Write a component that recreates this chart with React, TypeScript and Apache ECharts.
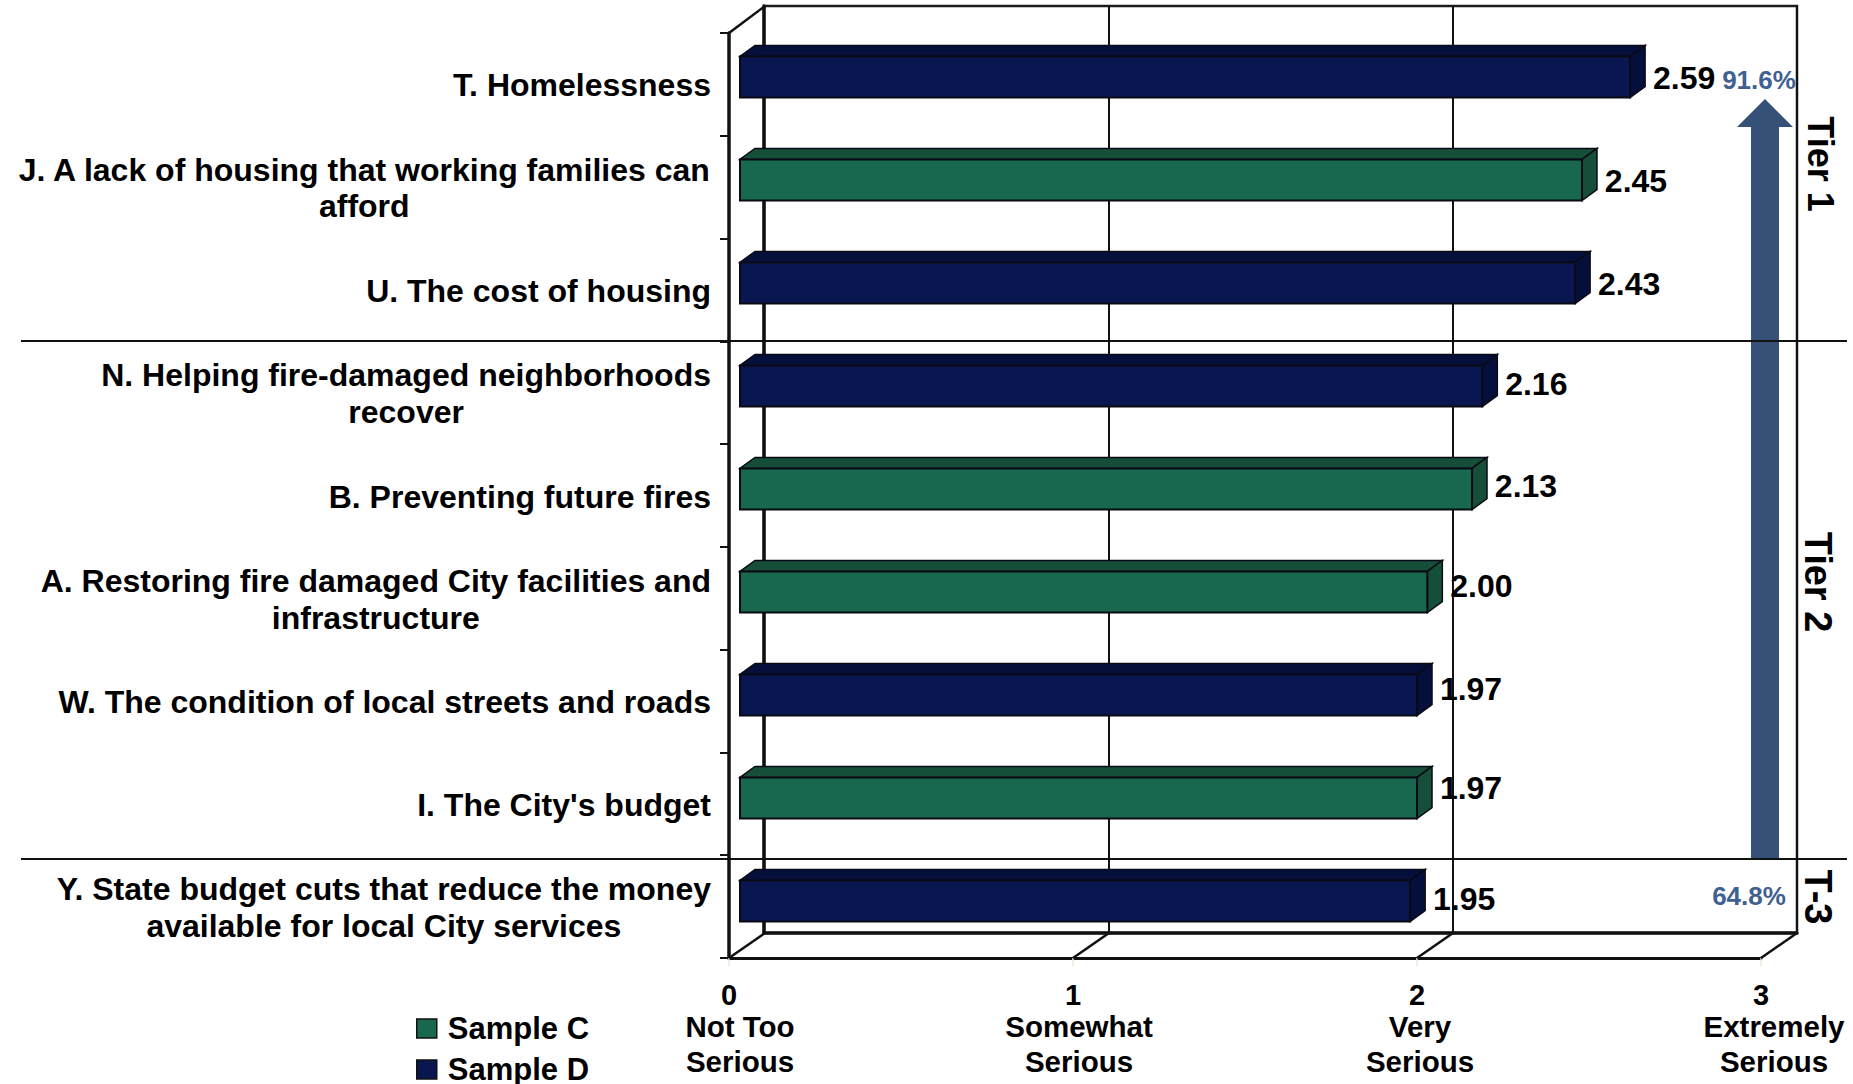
import React, { useEffect, useRef } from "react";
import * as echarts from "echarts";

const categories = [
  "T. Homelessness",
  "J. A lack of housing that working families can\nafford",
  "U. The cost of housing",
  "N. Helping fire-damaged neighborhoods\nrecover",
  "B. Preventing future fires",
  "A. Restoring fire damaged City facilities and\ninfrastructure",
  "W. The condition of local streets and roads",
  "I. The City's budget",
  "Y. State budget cuts that reduce the money\navailable for local City services",
];
const sampleC = [null, 2.45, null, null, 2.13, 2.0, null, 1.97, null];
const sampleD = [2.59, null, 2.43, 2.16, null, null, 1.97, null, 1.95];
const scaleTicks = [0, 1, 2, 3];
const scaleWords = ["Not Too\nSerious", "Somewhat\nSerious", "Very\nSerious", "Extremely\nSerious"];
const tiers = ["Tier 1", "Tier 2", "T-3"];
const topShare = "91.6%";
const bottomShare = "64.8%";

const FONT = '"Liberation Sans", Arial, sans-serif';
const NAVY = "#0a1650";
const NAVY_DARK = "#050f3c";
const GREEN = "#17684e";
const GREEN_DARK = "#154f3a";
const ARROW = "#365177";
const PCT = "#3f6090";
// vertical nudges of the value labels relative to their bar centres
const labelNudge = [1, 1, 1, -2, -3, -6, -6, -10, -2];

const tx = (text: string, x: number, y: number, size: number, extra: any = {}) => ({
  type: "text",
  x,
  y,
  z: 20,
  silent: true,
  rotation: extra.rotation || 0,
  style: {
    text,
    align: "center",
    verticalAlign: "middle",
    textAlign: "center",
    textVerticalAlign: "middle",
    fontFamily: FONT,
    fontWeight: "bold",
    fontSize: size,
    lineHeight: extra.lineHeight,
    fill: extra.fill || "#000",
  },
});

const ln = (x1: number, y1: number, x2: number, y2: number, w = 2.5, color = "#111") => ({
  type: "line",
  z: 15,
  silent: true,
  shape: { x1, y1, x2, y2 },
  style: { stroke: color, lineWidth: w },
});

function barRenderer(front: string, dark: string) {
  return (params: any, api: any) => {
    const value = api.value(0);
    const cat = api.value(1);
    const start = api.coord([0, cat]);
    const end = api.coord([value, cat]);
    const h = api.size([0, 1])[1] * 0.4;
    const top = start[1] - h / 2 + 0.5;
    const bot = start[1] + h / 2 + 0.5;
    const dx = 15;
    const dy = 11;
    const x0 = start[0];
    const x1 = end[0];
    const line = { stroke: "#0a0a14", lineWidth: 1.5 };
    return {
      type: "group",
      children: [
        {
          type: "polygon",
          shape: { points: [[x0, top], [x0 + dx, top - dy], [x1 + dx, top - dy], [x1, top]] },
          style: { fill: dark, ...line },
        },
        {
          type: "polygon",
          shape: { points: [[x1, top], [x1 + dx, top - dy], [x1 + dx, bot - dy], [x1, bot]] },
          style: { fill: dark, ...line },
        },
        {
          type: "rect",
          shape: { x: x0, y: top, width: x1 - x0, height: h },
          style: { fill: front, stroke: "#0a0a14", lineWidth: 2 },
        },
        {
          type: "text",
          x: x1 + 54,
          y: start[1] + labelNudge[cat],
          z2: 10,
          style: {
            text: value.toFixed(2),
            align: "center",
            verticalAlign: "middle",
            textAlign: "center",
            textVerticalAlign: "middle",
            fontFamily: FONT,
            fontWeight: "bold",
            fontSize: 32,
            fill: "#000",
          },
        },
      ],
    };
  };
}

const pairs = (vals: (number | null)[]) =>
  vals.map((v, i) => (v === null ? null : [v, i])).filter(Boolean);

export default function App() {
  const ref = useRef<HTMLDivElement>(null);
  useEffect(() => {
    document.body.style.margin = "0";
    const chart = echarts.init(ref.current!, undefined, { renderer: "svg" });
    const blankAxisY = {
      type: "category",
      data: categories,
      inverse: true,
      axisLabel: { show: false },
      axisTick: { show: false },
      splitLine: { show: false },
    };
    const blankAxisX = { type: "value", min: 0, max: 3, interval: 1 };
    chart.setOption({
      animation: false,
      backgroundColor: "#fff",
      textStyle: { fontFamily: FONT },
      legend: {
        orient: "vertical",
        left: 411,
        top: 1008,
        height: 76,
        itemWidth: 20,
        itemHeight: 19,
        itemGap: 10,
        selectedMode: false,
        textStyle: { fontFamily: FONT, fontWeight: "bold", fontSize: 31, lineHeight: 29, color: "#000", padding: [0, 0, 0, 6] },
        data: [
          { name: "Sample C", icon: "rect", itemStyle: { color: GREEN, borderColor: "#111", borderWidth: 1.5 } },
          { name: "Sample D", icon: "rect", itemStyle: { color: NAVY, borderColor: "#111", borderWidth: 1.5 } },
        ],
      },
      grid: [
        // back wall
        { left: 764, top: 6, width: 1033, height: 927, show: true, borderColor: "#1c1c1c", borderWidth: 2.5, backgroundColor: "transparent" },
        // front plane with the axes
        { left: 729, top: 33, width: 1032, height: 925 },
        // plane of the bars
        { left: 740, top: 25, width: 1031, height: 927 },
      ],
      xAxis: [
        {
          ...blankAxisX,
          gridIndex: 0,
          axisLine: { show: true, onZero: false, lineStyle: { color: "#111", width: 3.5 } },
          axisTick: { show: false },
          axisLabel: { show: false },
          splitLine: { show: true, lineStyle: { color: "#111", width: 2 } },
        },
        {
          ...blankAxisX,
          gridIndex: 1,
          axisLine: { show: true, onZero: false, lineStyle: { color: "#111", width: 3 } },
          axisTick: { show: true, length: 8, lineStyle: { color: "#e6e6d4", width: 1.5 } },
          axisLabel: {
            show: true,
            margin: 22,
            fontFamily: FONT,
            fontWeight: "bold",
            fontSize: 29,
            color: "#000",
            formatter: (v: number) => (scaleTicks.includes(v) ? String(v) : ""),
          },
          splitLine: { show: false },
        },
        {
          ...blankAxisX,
          gridIndex: 2,
          axisLine: { show: false },
          axisTick: { show: false },
          axisLabel: { show: false },
          splitLine: { show: false },
        },
      ],
      yAxis: [
        { ...blankAxisY, gridIndex: 0, axisLine: { show: true, onZero: false, lineStyle: { color: "#111", width: 3.5 } } },
        {
          type: "category",
          data: categories,
          inverse: true,
          gridIndex: 1,
          axisLine: { show: true, onZero: false, lineStyle: { color: "#111", width: 3.5 } },
          axisTick: { show: true, length: 9, lineStyle: { color: "#111", width: 2 } },
          splitLine: { show: false },
          axisLabel: {
            show: true,
            interval: 0,
            margin: 18,
            padding: [2, 0, 0, 0],
            formatter: (v: string) =>
              v.split("\n").map((s) => `{c|${s}}`).join("\n"),
            rich: {
              c: {
                align: "center",
                fontFamily: FONT,
                fontWeight: "bold",
                fontSize: 32,
                lineHeight: 36.6,
                color: "#000",
              },
            },
          },
        },
        { ...blankAxisY, gridIndex: 2, axisLine: { show: false } },
      ],
      series: [
        {
          name: "Sample C",
          type: "custom",
          xAxisIndex: 2,
          yAxisIndex: 2,
          z: 5,
          clip: false,
          itemStyle: { color: GREEN },
          data: pairs(sampleC),
          encode: { x: 0, y: 1 },
          renderItem: barRenderer(GREEN, GREEN_DARK),
        },
        {
          name: "Sample D",
          type: "custom",
          xAxisIndex: 2,
          yAxisIndex: 2,
          z: 5,
          clip: false,
          itemStyle: { color: NAVY },
          data: pairs(sampleD),
          encode: { x: 0, y: 1 },
          renderItem: barRenderer(NAVY, NAVY_DARK),
        },
      ],
      graphic: [
        // depth edges of the 3D box
        ln(729, 33, 765, 6),
        ln(729, 958, 765, 933),
        ln(1073, 958, 1109, 933),
        ln(1417, 958, 1453, 933),
        ln(1761, 958, 1797, 933),
        // tier separators
        ln(21, 341, 1847, 341, 2),
        ln(21, 859, 1847, 859, 2),
        // arrow
        {
          type: "polygon",
          z: 12,
          silent: true,
          shape: {
            points: [
              [1751, 859],
              [1751, 127],
              [1737, 127],
              [1765, 99],
              [1793, 127],
              [1779, 127],
              [1779, 859],
            ],
          },
          style: { fill: ARROW },
        },
        tx(topShare, 1759, 80, 26, { fill: PCT }),
        tx(bottomShare, 1749, 896, 26, { fill: PCT }),
        tx(tiers[0], 1820, 164, 36, { rotation: -Math.PI / 2 }),
        tx(tiers[1], 1818, 582, 38, { rotation: -Math.PI / 2 }),
        tx(tiers[2], 1818, 897, 38, { rotation: -Math.PI / 2 }),
        tx(scaleWords[0], 740, 1044, 29.5, { lineHeight: 35 }),
        tx(scaleWords[1], 1079, 1044, 29.5, { lineHeight: 35 }),
        tx(scaleWords[2], 1420, 1044, 29.5, { lineHeight: 35 }),
        tx(scaleWords[3], 1774, 1044, 29.5, { lineHeight: 35 }),
      ],
    });
    return () => chart.dispose();
  }, []);
  return <div ref={ref} style={{ width: 1853, height: 1084, position: "fixed", left: 0, top: 0 }} />;
}
